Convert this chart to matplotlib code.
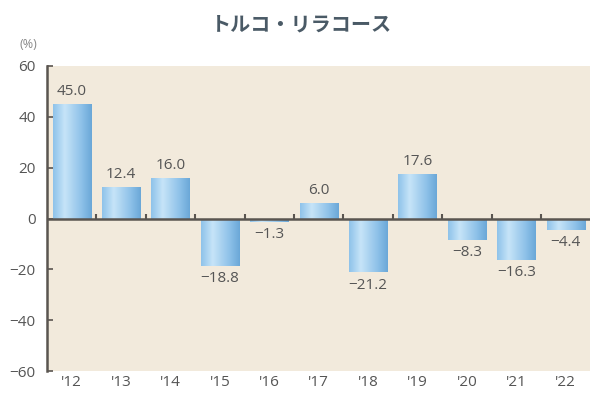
import matplotlib
matplotlib.use("Agg")
import matplotlib.pyplot as plt
import numpy as np
from matplotlib.colors import LinearSegmentedColormap

plt.rcParams['font.family'] = ['Open Sans', 'Noto Sans CJK JP', 'DejaVu Sans']

years = ["'12", "'13", "'14", "'15", "'16", "'17", "'18", "'19", "'20", "'21", "'22"]
values = [45.0, 12.4, 16.0, -18.8, -1.3, 6.0, -21.2, 17.6, -8.3, -16.3, -4.4]
labels = ["45.0", "12.4", "16.0", "−18.8", "−1.3", "6.0", "−21.2", "17.6", "−8.3", "−16.3", "−4.4"]

fig = plt.figure(figsize=(5.94, 3.97), dpi=100)
fig.patch.set_facecolor('white')
ax = fig.add_axes([0.079, 0.065, 0.915, 0.769])
ax.set_facecolor('#f2eadc')

x = np.arange(len(years))
bars = ax.bar(x, values, width=0.77, color='none', edgecolor='none', zorder=2)

# horizontal gradient inside every bar
cmap = LinearSegmentedColormap.from_list('barblue', [
    (0.0, '#8fc3ea'), (0.3, '#c6e4f8'), (0.75, '#8cc0e8'), (1.0, '#6ba8d8')])
grad = np.linspace(0, 1, 64).reshape(1, -1)
for b in bars:
    x0, y0 = b.get_x(), b.get_y()
    w, h = b.get_width(), b.get_height()
    im = ax.imshow(grad, cmap=cmap, aspect='auto', zorder=2,
                   extent=[x0, x0 + w, y0, y0 + h], interpolation='bilinear')
    im.set_clip_path(b)

# zero line and small separators
ax.axhline(0, color='#5a5550', lw=1.8, zorder=3)
ax.vlines(x[:-1] + 0.5, 0, 1.8, color='#5a5550', lw=1.5, zorder=3)

for xi, v, lab in zip(x, values, labels):
    if v >= 0:
        ax.text(xi, v + 2, lab, ha='center', va='bottom', fontsize=11, color='#555555', zorder=4)
    else:
        ax.text(xi, v - 2, lab, ha='center', va='top', fontsize=11, color='#555555', zorder=4)

ax.set_xlim(-0.5, len(years) - 0.5)
ax.set_ylim(-60, 60)
ax.set_yticks(np.arange(-60, 61, 20))
ax.set_xticks(x)
ax.set_xticklabels(years)
ax.tick_params(axis='y', direction='in', length=4, width=1.2, color='#5a5550',
               labelsize=11, labelcolor='#555555', pad=8)
ax.tick_params(axis='x', length=0, labelsize=11, labelcolor='#555555', pad=3)

for s in ['top', 'right', 'bottom']:
    ax.spines[s].set_visible(False)
ax.spines['left'].set_color('#5a5550')
ax.spines['left'].set_linewidth(1.8)

fig.text(0.047, 0.887, '(%)', fontsize=9, color='#888888', ha='center', va='center')
fig.text(0.508, 0.94, 'トルコ・リラコース', fontsize=14.5, fontweight='bold',
         color='#4a5a66', ha='center', va='center', family='Noto Sans CJK JP')

fig.savefig('out.png', dpi=100, facecolor='white')
